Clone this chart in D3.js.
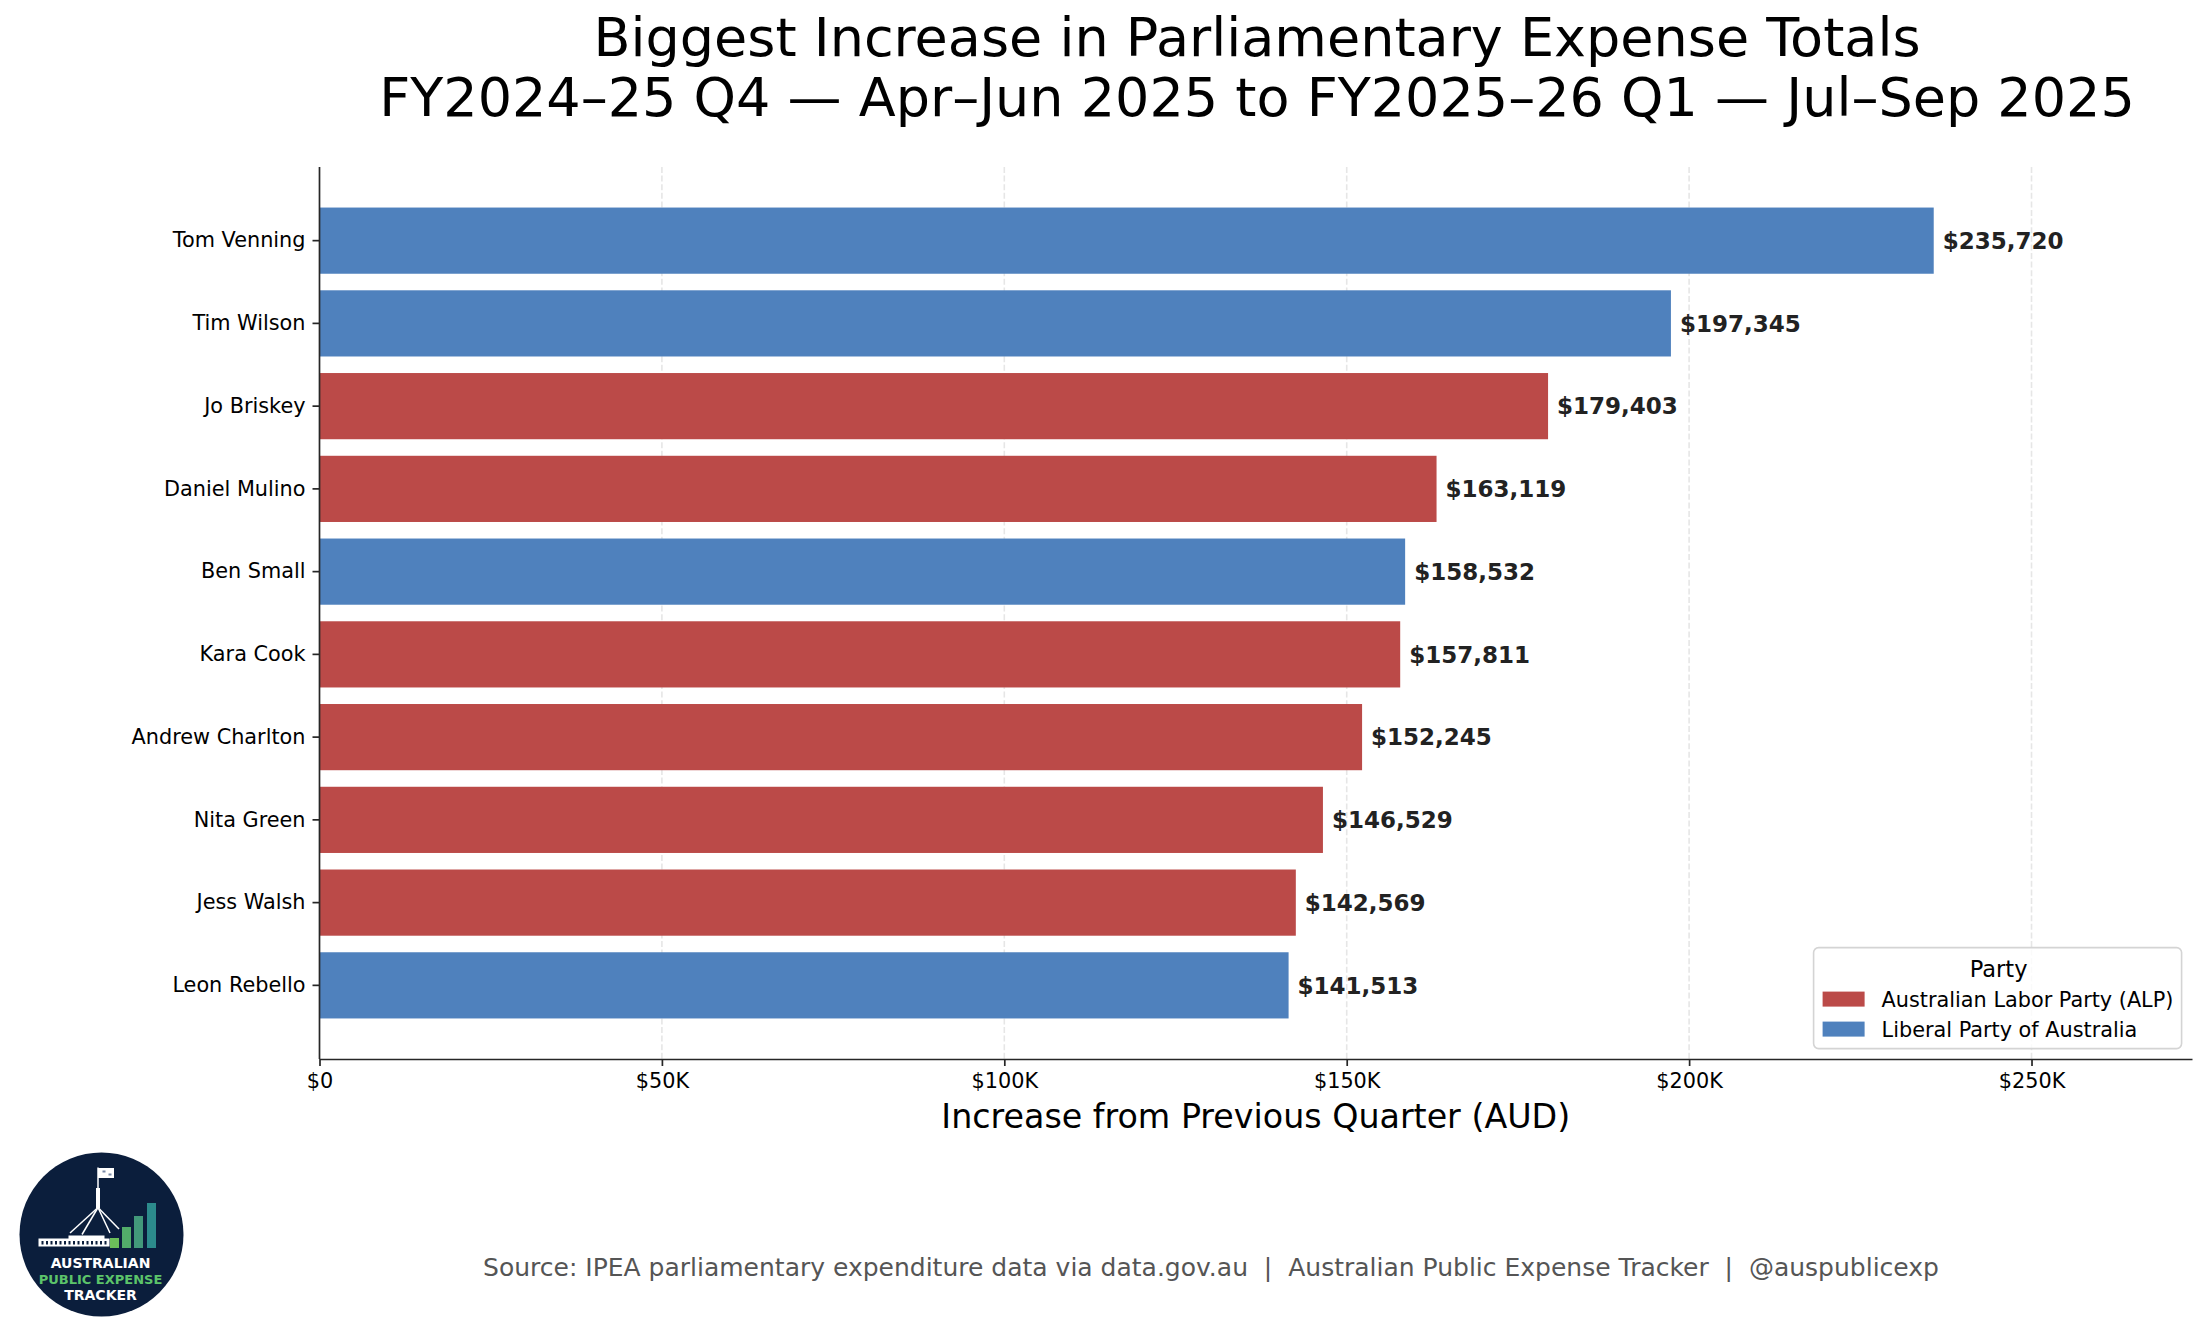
<!DOCTYPE html>
<html lang="en">
<head>
<meta charset="UTF-8">
<script src="https://d3js.org/d3.v7.min.js"></script>
<title>Biggest Increase in Parliamentary Expense Totals</title>
<style>
  body { margin: 0; background: #fff; }
  svg text { font-family: "DejaVu Sans", sans-serif; }
</style>
</head>
<body>
<svg id="chart"></svg>
<script>
// data
const names = ["Tom Venning", "Tim Wilson", "Jo Briskey", "Daniel Mulino", "Ben Small",
               "Kara Cook", "Andrew Charlton", "Nita Green", "Jess Walsh", "Leon Rebello"];
const increases = [235720, 197345, 179403, 163119, 158532, 157811, 152245, 146529, 142569, 141513];
const parties = ["LIB", "LIB", "ALP", "ALP", "LIB", "ALP", "ALP", "ALP", "ALP", "LIB"];
const partyKeys = ["ALP", "LIB"];
const partyLabels = ["Australian Labor Party (ALP)", "Liberal Party of Australia"];
const xTicks = [0, 50000, 100000, 150000, 200000, 250000];

const width = 2205, height = 1337;
const margin = {top: 167, right: 13, bottom: 278, left: 319.5};
const color = d3.scaleOrdinal().domain(partyKeys).range(["#bb4a48", "#4f81bd"]);

const svg = d3.select("#chart").attr("width", width).attr("height", height);

const x = d3.scaleLinear()
    .domain([0, d3.max(increases) * 1.16])
    .range([margin.left, width - margin.right]);

const y = d3.scaleBand()
    .domain(names)
    .range([margin.top, height - margin.bottom])
    .paddingInner(0.2)
    .paddingOuter(0.49);

const data = names.map((n, i) => ({name: n, value: increases[i], party: parties[i]}));

// grid
svg.append("g")
    .selectAll("line").data(xTicks.slice(1)).join("line")
    .attr("x1", d => x(d)).attr("x2", d => x(d))
    .attr("y1", margin.top).attr("y2", height - margin.bottom)
    .attr("stroke", "#e6e6e6").attr("stroke-width", 1.6)
    .attr("stroke-dasharray", "6,2.6");

// bars
svg.append("g")
    .selectAll("rect").data(data).join("rect")
    .attr("x", x(0))
    .attr("y", d => y(d.name))
    .attr("width", d => x(d.value) - x(0))
    .attr("height", y.bandwidth())
    .attr("fill", d => color(d.party));

// value labels
const fmtVal = d3.format("$,.0f");
svg.append("g")
    .selectAll("text").data(data).join("text")
    .attr("x", d => x(d.value) + 9)
    .attr("y", d => y(d.name) + y.bandwidth() / 2)
    .attr("dy", "0.36em")
    .attr("font-size", 23).attr("font-weight", "bold").attr("fill", "#222")
    .text(d => fmtVal(d.value));

// axes
const xAxis = d3.axisBottom(x).tickValues(xTicks)
    .tickFormat(d => d === 0 ? "$0" : "$" + d / 1000 + "K")
    .tickSize(7).tickPadding(7).tickSizeOuter(0);
svg.append("g").attr("transform", `translate(0,${height - margin.bottom})`).call(xAxis)
    .call(g => g.selectAll("text").attr("font-size", 20.8).attr("fill", "#000").attr("font-family", "DejaVu Sans"))
    .call(g => g.selectAll("line,path").attr("stroke", "#262626").attr("stroke-width", 1.7));

const yAxis = d3.axisLeft(y).tickSize(7).tickPadding(7).tickSizeOuter(0);
svg.append("g").attr("transform", `translate(${margin.left},0)`).call(yAxis)
    .call(g => g.selectAll("text").attr("font-size", 20.8).attr("fill", "#000").attr("font-family", "DejaVu Sans"))
    .call(g => g.selectAll("line,path").attr("stroke", "#262626").attr("stroke-width", 1.7));
// matplotlib spine covers full axes height
svg.select("g:last-of-type .domain").attr("d", `M0,${margin.top}V${height - margin.bottom}`);

// axis label
svg.append("text")
    .attr("x", (x.range()[0] + x.range()[1]) / 2).attr("y", 1128)
    .attr("text-anchor", "middle").attr("font-size", 33.3).attr("fill", "#000")
    .text("Increase from Previous Quarter (AUD)");

// title
const title = svg.append("text").attr("text-anchor", "middle").attr("font-size", 54).attr("fill", "#000");
title.append("tspan").attr("x", 1257).attr("y", 56).text("Biggest Increase in Parliamentary Expense Totals");
title.append("tspan").attr("x", 1257).attr("y", 116).text("FY2024\u201325 Q4 \u2014 Apr\u2013Jun 2025 to FY2025\u201326 Q1 \u2014 Jul\u2013Sep 2025");

// legend
const lgW = 368, lgH = 101;
const lgX = x.range()[1] - 10.4 - lgW, lgY = height - margin.bottom - 10.4 - lgH;
const legend = svg.append("g").attr("transform", `translate(${lgX},${lgY})`);
legend.append("rect").attr("width", lgW).attr("height", lgH).attr("rx", 5)
    .attr("fill", "#fff").attr("fill-opacity", 0.8).attr("stroke", "#d4d4d4").attr("stroke-width", 1.6);
legend.append("text").attr("x", lgW / 2 + 1).attr("y", 29).attr("text-anchor", "middle")
    .attr("font-size", 22.5).attr("fill", "#000").text("Party");
const items = legend.selectAll("g.item").data(partyKeys).join("g")
    .attr("transform", (d, i) => `translate(9,${44 + i * 30})`);
items.append("rect").attr("width", 42).attr("height", 15).attr("fill", d => color(d));
items.append("text").attr("x", 59).attr("y", 15).attr("font-size", 20.8).attr("fill", "#000")
    .text((d, i) => partyLabels[i]);

// source line
svg.append("text")
    .attr("x", 1211).attr("y", 1276)
    .attr("text-anchor", "middle").attr("font-size", 25).attr("fill", "#555")
    .style("white-space", "pre")
    .text("Source: IPEA parliamentary expenditure data via data.gov.au  |  Australian Public Expense Tracker  |  @auspublicexp");

// logo badge
const logo = svg.append("g").attr("transform", "translate(101.5,1234.5)");
logo.append("circle").attr("r", 82).attr("fill", "#0b1e3c");
logo.append("rect").attr("x", -3.5).attr("y", -66.5).attr("width", 16).attr("height", 10).attr("fill", "#fff");
logo.append("rect").attr("x", 1).attr("y", -64).attr("width", 3).attr("height", 2).attr("fill", "#7a8aa8");
logo.append("rect").attr("x", 7).attr("y", -61).attr("width", 3).attr("height", 2).attr("fill", "#7a8aa8");
logo.append("line").attr("x1", -3.5).attr("x2", -3.5).attr("y1", -67).attr("y2", -46)
    .attr("stroke", "#fff").attr("stroke-width", 1.5);
logo.append("rect").attr("x", -5.5).attr("y", -46.5).attr("width", 4).attr("height", 20).attr("fill", "#fff");
[[-31.5, -1.5], [-19.5, 0], [8.5, -1.5], [17.5, -5.5]].forEach(p => {
  logo.append("line").attr("x1", -3.5).attr("y1", -27).attr("x2", p[0]).attr("y2", p[1])
      .attr("stroke", "#fff").attr("stroke-width", 1.5);
});
logo.append("rect").attr("x", -63).attr("y", 4).attr("width", 71).attr("height", 8).attr("fill", "#fff");
logo.append("rect").attr("x", -33).attr("y", 1).attr("width", 36).attr("height", 4).attr("fill", "#fff");
d3.range(-60, 4, 4.5).forEach(wx => {
  logo.append("rect").attr("x", wx).attr("y", 6.5).attr("width", 2).attr("height", 3.5).attr("fill", "#0b1e3c");
});
const logoBars = [[8.5, 3.5, "#6cbf5a"], [20.5, -7.5, "#52ad6a"], [32.5, -18.5, "#42997a"], [45.5, -31.5, "#2c8b8c"]];
logoBars.forEach(b => {
  logo.append("rect").attr("x", b[0]).attr("y", b[1]).attr("width", 9).attr("height", 13.5 - b[1]).attr("fill", b[2]);
});
const logoText = [["AUSTRALIAN", 33.5, "#fff"], ["PUBLIC EXPENSE", 49.5, "#5cc46a"], ["TRACKER", 65.5, "#fff"]];
logoText.forEach(t => {
  logo.append("text").attr("x", -1).attr("y", t[1]).attr("text-anchor", "middle")
      .attr("font-size", t[0] === "PUBLIC EXPENSE" ? 13 : 14).attr("font-weight", "bold")
      .attr("fill", t[2]).text(t[0]);
});
</script>
</body>
</html>
